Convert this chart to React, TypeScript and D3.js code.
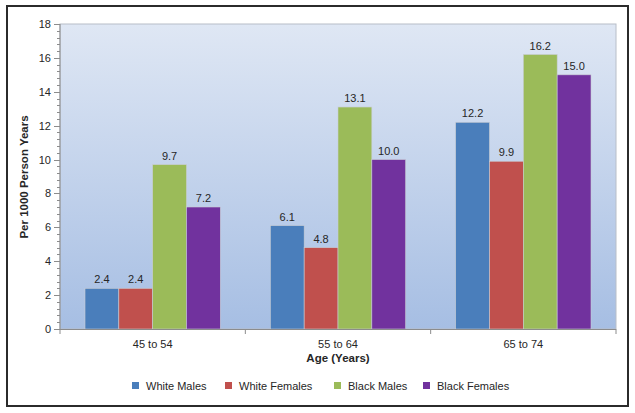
import React, { useEffect, useRef } from "react";
import * as d3 from "d3";

const categories = ["45 to 54", "55 to 64", "65 to 74"];
const seriesNames = ["White Males", "White Females", "Black Males", "Black Females"];
const whiteMales = [2.4, 6.1, 12.2];
const whiteFemales = [2.4, 4.8, 9.9];
const blackMales = [9.7, 13.1, 16.2];
const blackFemales = [7.2, 10.0, 15.0];
const seriesColors = ["#4a7ebb", "#c0504d", "#9bbb59", "#71329e"];
const yTicks = [0, 2, 4, 6, 8, 10, 12, 14, 16, 18];

export default function App() {
  const ref = useRef<SVGSVGElement | null>(null);

  useEffect(() => {
    const svg = d3.select(ref.current);
    svg.selectAll("*").remove();
    const W = 635, H = 413;
    const m = { left: 60, right: 616, top: 24, bottom: 329 };
    const font = "'Liberation Sans', Arial, sans-serif";

    const defs = svg.append("defs");
    const grad = defs.append("linearGradient").attr("id", "bg").attr("x1", 0).attr("y1", 0).attr("x2", 0).attr("y2", 1);
    grad.append("stop").attr("offset", "0%").attr("stop-color", "#dfe7f4");
    grad.append("stop").attr("offset", "100%").attr("stop-color", "#a6bee3");

    svg.append("rect").attr("width", W).attr("height", H).attr("fill", "#fff");
    // outer frame
    svg.append("rect").attr("x", 7).attr("y", 6).attr("width", 621).attr("height", 400)
      .attr("fill", "none").attr("stroke", "#2b2b2b").attr("stroke-width", 2);

    const y = d3.scaleLinear().domain([0, 18]).range([m.bottom, m.top]);
    const x0 = d3.scaleBand().domain(categories).range([m.left, m.right]).paddingInner(0).paddingOuter(0);
    const x1 = d3.scaleBand().domain(seriesNames).range([25, x0.bandwidth() - 25]);

    svg.append("rect").attr("x", m.left).attr("y", m.top).attr("width", m.right - m.left)
      .attr("height", m.bottom - m.top).attr("fill", "url(#bg)").attr("stroke", "#b8bec8").attr("stroke-width", 1);

    const data = [whiteMales, whiteFemales, blackMales, blackFemales];

    const g = svg.append("g");
    categories.forEach((c, ci) => {
      seriesNames.forEach((s, si) => {
        const v = data[si][ci];
        const bx = (x0(c) as number) + (x1(s) as number);
        g.append("rect").attr("x", bx).attr("y", y(v)).attr("width", x1.bandwidth())
          .attr("height", y(0) - y(v)).attr("fill", seriesColors[si])
          .attr("stroke", "#c9cdd4").attr("stroke-width", 0.6);
        g.append("text").attr("x", bx + x1.bandwidth() / 2).attr("y", y(v) - 5)
          .attr("text-anchor", "middle").attr("font-family", font).attr("font-size", 11)
          .attr("fill", "#262626").text(v.toFixed(1));
      });
    });

    // y axis
    const axisColor = "#8c8c8c";
    svg.append("line").attr("x1", m.left).attr("x2", m.left).attr("y1", m.top).attr("y2", m.bottom)
      .attr("stroke", axisColor);
    const minor = d3.range(0, 18.001, 0.4);
    svg.append("g").selectAll("line").data(minor).join("line")
      .attr("x1", m.left - 3).attr("x2", m.left).attr("y1", (d) => Math.round(y(d)) + 0.5).attr("y2", (d) => Math.round(y(d)) + 0.5)
      .attr("stroke", axisColor);
    svg.append("g").selectAll("line").data(yTicks).join("line")
      .attr("x1", m.left - 6).attr("x2", m.left).attr("y1", (d) => Math.round(y(d)) + 0.5).attr("y2", (d) => Math.round(y(d)) + 0.5)
      .attr("stroke", axisColor);
    svg.append("g").selectAll("text").data(yTicks).join("text")
      .attr("x", 51).attr("y", (d) => y(d) + 4).attr("text-anchor", "end")
      .attr("font-family", font).attr("font-size", 11).attr("fill", "#262626").text((d) => String(d));

    // x axis
    svg.append("line").attr("x1", m.left).attr("x2", m.right).attr("y1", m.bottom + 0.5).attr("y2", m.bottom + 0.5)
      .attr("stroke", axisColor);
    const bounds = [...categories.map((c) => x0(c) as number), m.right];
    svg.append("g").selectAll("line").data(bounds).join("line")
      .attr("x1", (d) => d).attr("x2", (d) => d).attr("y1", m.bottom).attr("y2", m.bottom + 5)
      .attr("stroke", axisColor);
    svg.append("g").selectAll("text").data(categories).join("text")
      .attr("x", (d) => (x0(d) as number) + x0.bandwidth() / 2).attr("y", 347.5).attr("text-anchor", "middle")
      .attr("font-family", font).attr("font-size", 11).attr("fill", "#262626").text((d) => d);

    // axis titles
    svg.append("text").attr("x", (m.left + m.right) / 2).attr("y", 362).attr("text-anchor", "middle")
      .attr("font-family", font).attr("font-size", 11.5).attr("font-weight", "bold").attr("fill", "#262626")
      .text("Age (Years)");
    svg.append("text").attr("transform", `translate(28,${(m.top + m.bottom) / 2 + 0.5}) rotate(-90)`)
      .attr("text-anchor", "middle").attr("font-family", font).attr("font-size", 11.5)
      .attr("font-weight", "bold").attr("fill", "#262626").text("Per 1000 Person Years");

    // legend
    const legX = [132, 225, 334, 423];
    const lg = svg.append("g");
    seriesNames.forEach((s, i) => {
      lg.append("rect").attr("x", legX[i]).attr("y", 382).attr("width", 7).attr("height", 7).attr("fill", seriesColors[i]);
      lg.append("text").attr("x", legX[i] + 14).attr("y", 390).attr("font-family", font).attr("font-size", 11)
        .attr("fill", "#262626").text(s);
    });
  }, []);

  return (
    <div style={{ position: "absolute", left: 0, top: 0 }}>
      <svg ref={ref} width={635} height={413} style={{ display: "block" }} />
    </div>
  );
}
